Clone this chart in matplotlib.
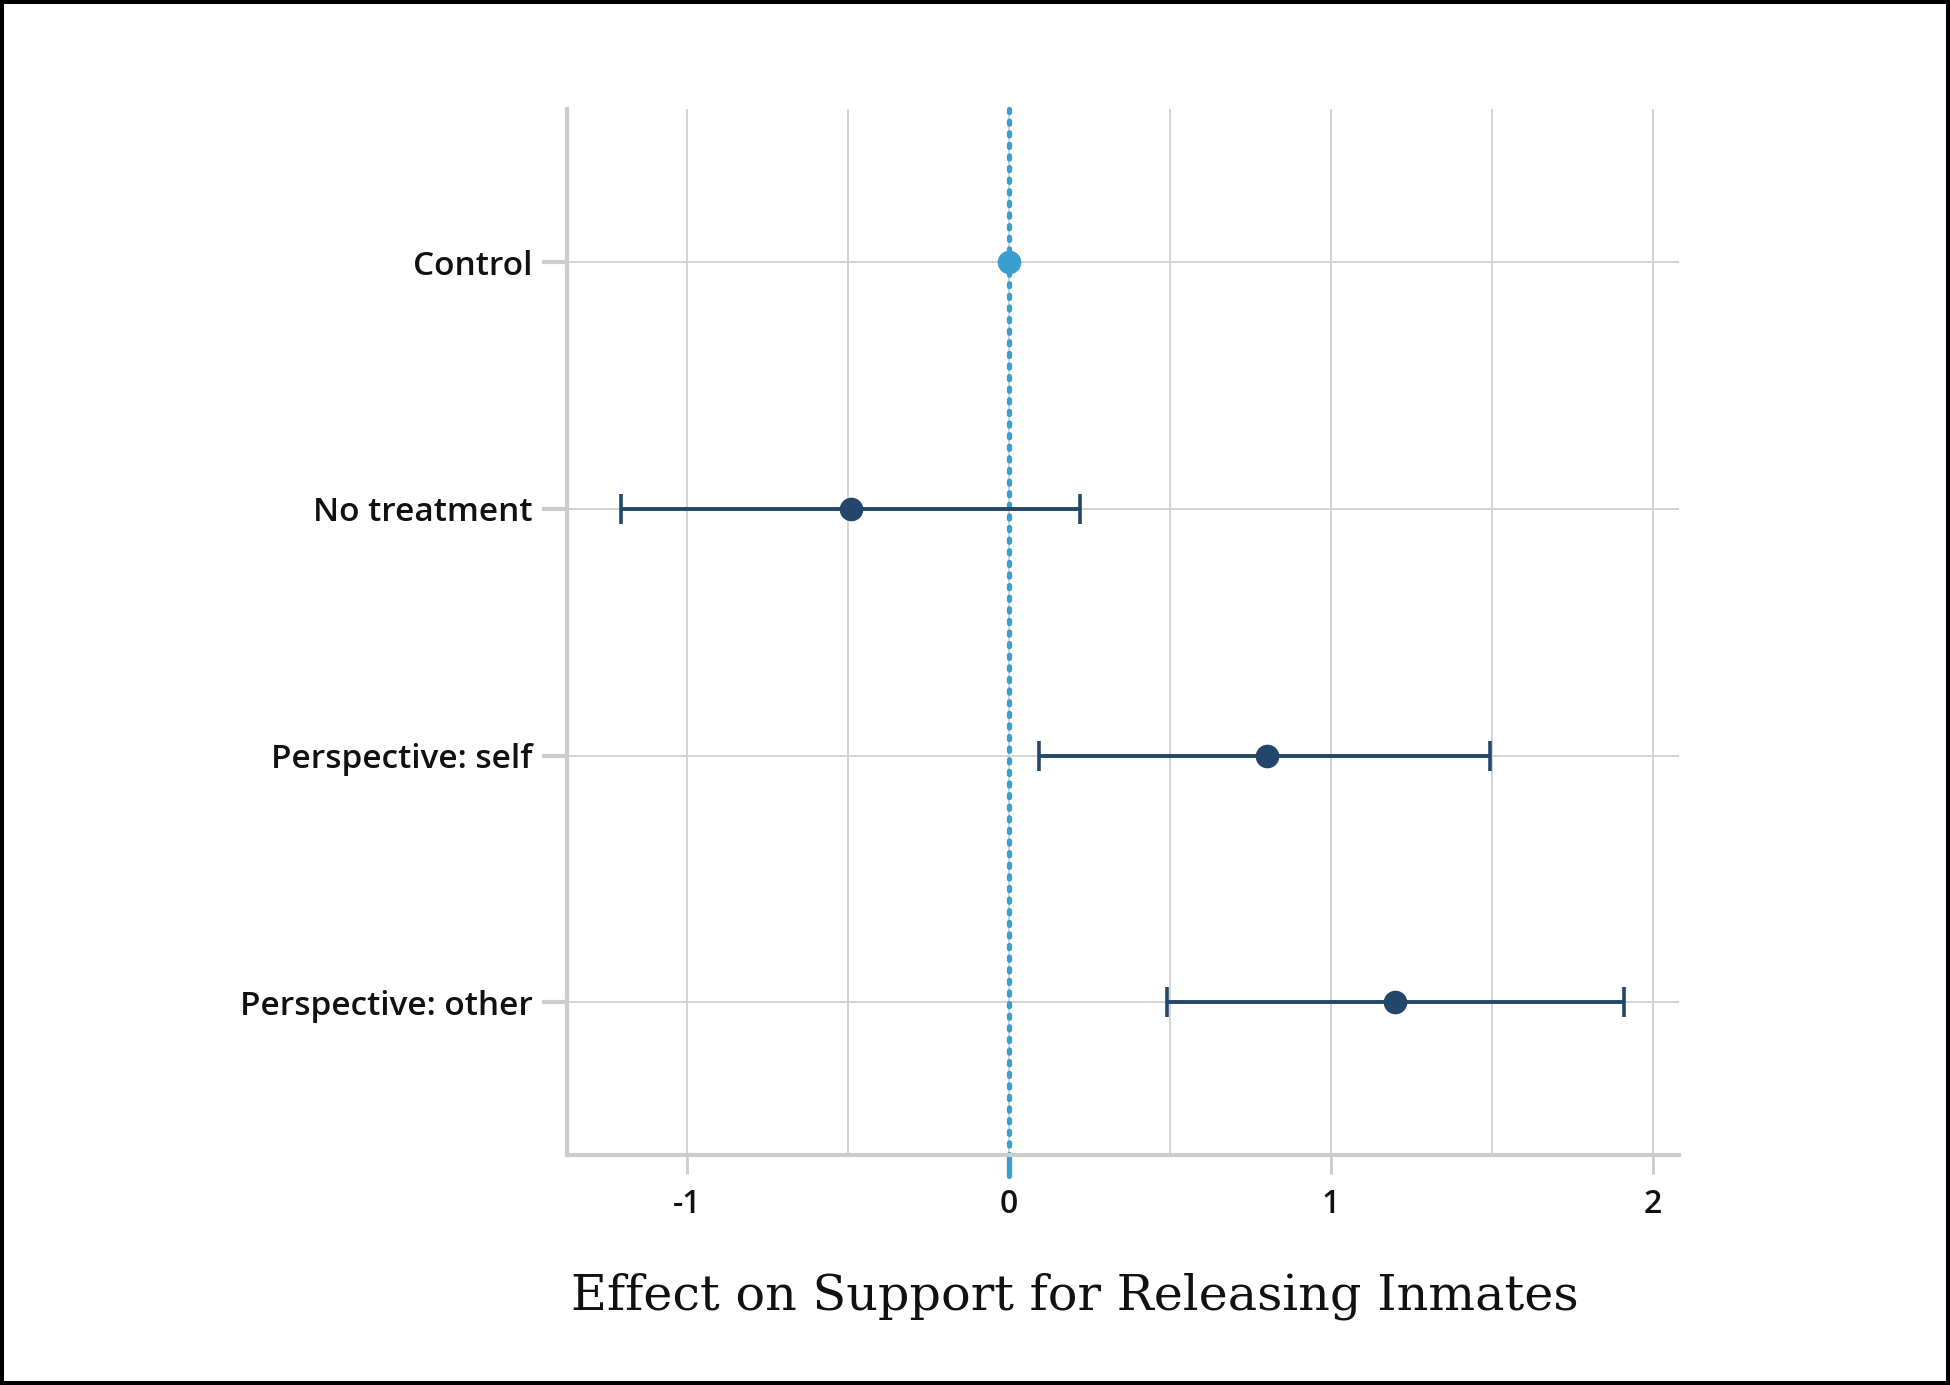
import matplotlib
matplotlib.use("Agg")
import matplotlib.pyplot as plt
import matplotlib.patches as mpatches
import matplotlib.transforms as mtransforms
from matplotlib.lines import Line2D
import numpy as np

# ---- data ----
categories = ["Control", "No treatment", "Perspective: self", "Perspective: other"]
estimates = [0.0, -0.49, 0.80, 1.20]
ci_low = [0.0, -1.205, 0.095, 0.49]
ci_high = [0.0, 0.22, 1.495, 1.91]
x_ticks = [-1, 0, 1, 2]
x_tick_labels = ["-1", "0", "1", "2"]
x_grid_minor = [-0.5, 0.5, 1.5]
x_label = "Effect on Support for Releasing Inmates"

# ---- style ----
DARK = "#22476a"
LIGHT = "#3a9fd0"
GRID = "#d4d4d4"
SPINE = "#cccccc"

fig = plt.figure(figsize=(19.5, 13.85), dpi=100)
ax_left, ax_bottom = 0.291, 0.166
ax_w, ax_h = 0.861 - 0.291, 0.921 - 0.166
ax = fig.add_axes([ax_left, ax_bottom, ax_w, ax_h])

ypos = np.arange(len(categories))
ax.set_xlim(-1.37, 2.08)
ax.set_ylim(3.62, -0.62)

# grid
for xv in list(x_ticks) + list(x_grid_minor):
    ax.axvline(xv, color=GRID, lw=1.4, zorder=0)
for yv in ypos:
    ax.axhline(yv, color=GRID, lw=1.4, zorder=0)

# zero reference line (dotted)
trans = mtransforms.blended_transform_factory(ax.transData, ax.transAxes)
zline = Line2D([0, 0], [1.0, 0.0], transform=trans, color=LIGHT,
               linewidth=3.8, zorder=2, clip_on=False)
zline.set_dashes([0.6, 1.6])
zline.set_dash_capstyle("round")
ax.add_line(zline)
ax.plot([0, 0], [0.0, -0.02], transform=trans, color=LIGHT, lw=3.8,
        solid_capstyle="round", zorder=2, clip_on=False)

# error bars
for i, (est, lo, hi) in enumerate(zip(estimates, ci_low, ci_high)):
    if i == 0:
        ax.plot(est, ypos[i], "o", color=LIGHT, ms=16, zorder=4)
    else:
        ax.errorbar(est, ypos[i], xerr=[[est - lo], [hi - est]], fmt="o",
                    color=DARK, ms=16, elinewidth=2.8, capsize=10.5,
                    capthick=2.6, zorder=4)

# spines
for s in ["top", "right"]:
    ax.spines[s].set_visible(False)
for s in ["left", "bottom"]:
    ax.spines[s].set_color(SPINE)
    ax.spines[s].set_linewidth(3)

ax.set_yticks(ypos)
ax.set_yticklabels(categories, fontfamily="Open Sans", fontweight=600,
                   fontsize=24, color="#111111")
ax.set_xticks(x_ticks)
ax.set_xticklabels(x_tick_labels, fontfamily="Open Sans", fontweight=600,
                   fontsize=23, color="#111111")
ax.tick_params(axis="y", length=18, width=3, color=SPINE, pad=7)
ax.tick_params(axis="x", length=14, width=2, color=SPINE, pad=10)

ax.set_xlabel(x_label, fontfamily="DejaVu Serif", fontsize=35.5,
              color="#111111")
fx = 864 / 1568
ax.xaxis.set_label_coords((fx - ax_left) / ax_w, -0.112)

# figure border
fig.patches.append(mpatches.Rectangle((0, 0), 1, 1, transform=fig.transFigure,
                                      fill=False, lw=5.8, ec="black"))

fig.savefig("out.png", dpi=100, facecolor="white")
